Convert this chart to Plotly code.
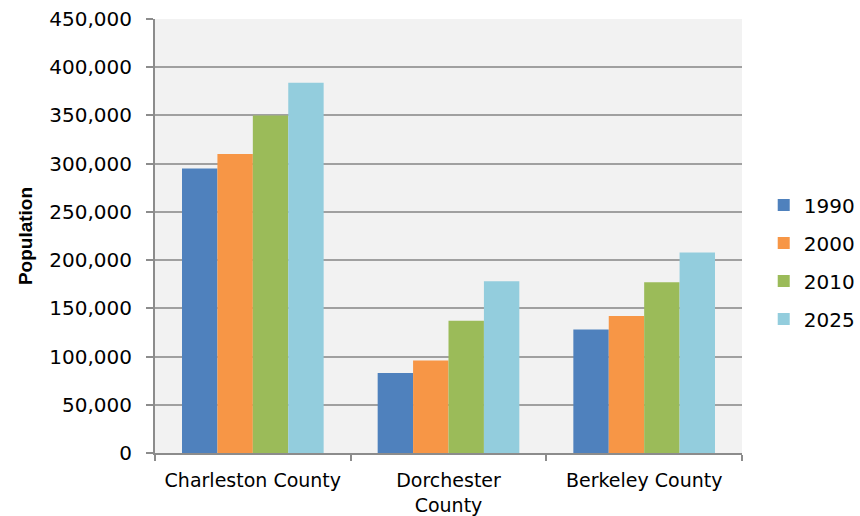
import plotly.graph_objects as go

categories = ["Charleston County", "Dorchester<br>County", "Berkeley County"]
years = ["1990", "2000", "2010", "2025"]
pop_1990 = [295000, 83000, 128000]
pop_2000 = [310000, 96000, 142000]
pop_2010 = [350000, 137000, 177000]
pop_2025 = [384000, 178000, 208000]
colors = ["#4F81BD", "#F79646", "#9BBB59", "#93CDDD"]

series = [pop_1990, pop_2000, pop_2010, pop_2025]

fig = go.Figure()
for yr, vals, col in zip(years, series, colors):
    fig.add_trace(go.Bar(
        x=categories, y=vals, name=yr, legendgroup=yr,
        marker=dict(color=col, line=dict(width=0)),
    ))

font_family = "DejaVu Sans"
fig.update_layout(
    width=860, height=516,
    margin=dict(l=155, r=118, t=19, b=63, autoexpand=False),
    paper_bgcolor="white",
    plot_bgcolor="#F2F2F2",
    barmode="group",
    bargap=0.276,
    bargroupgap=0,
    font=dict(family=font_family, size=20, color="#000000"),
    legend=dict(
        x=1.037, xanchor="left", y=0.44, yanchor="middle",
        font=dict(family=font_family, size=20, color="#000000"),
        traceorder="grouped", tracegroupgap=9,
        bgcolor="rgba(0,0,0,0)",
    ),
    xaxis=dict(
        automargin=False,
        tickangle=0,
        showgrid=False, showline=True, linecolor="#8C8C8C", linewidth=2,
        ticks="outside", tickson="boundaries", ticklen=6, tickcolor="#8C8C8C", tickwidth=2,
        tickfont=dict(family=font_family, size=19, color="#000000"),
        ticklabelstandoff=9,
    ),
    yaxis=dict(
        automargin=False,
        range=[0, 450000], dtick=50000, tickformat=",d",
        showgrid=True, gridcolor="#A0A0A0", gridwidth=1.6,
        showline=True, linecolor="#8C8C8C", linewidth=2,
        ticks="outside", ticklen=7, tickcolor="#8C8C8C", tickwidth=2,
        tickfont=dict(family=font_family, size=20, color="#000000"),
        ticklabelstandoff=10,
        zeroline=False,
        title=dict(text="<b>Population</b>",
                   font=dict(family="Liberation Sans", size=19, color="#000000"),
                   standoff=12),
    ),
)

fig.write_html("out.html")
